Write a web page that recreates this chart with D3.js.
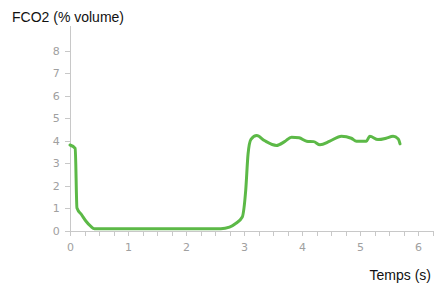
<!DOCTYPE html>
<html lang="fr">
<head>
<meta charset="utf-8">
<title>FCO2</title>
<script src="https://cdn.jsdelivr.net/npm/d3@7"></script>
<style>
  body { margin: 0; background: #fff; }
  .axis path, .axis line { stroke: #c8c8c8; shape-rendering: crispEdges; }
  .axis text { fill: #a0a0a0; font-family: "DejaVu Sans", sans-serif; font-size: 11px; }
  .title { font-family: "Liberation Sans", Arial, sans-serif; font-size: 14px; fill: #111; }
</style>
</head>
<body>
<script>
// temps (s) et FCO2 (% volume)
var temps = [0, 0.09, 0.12, 0.2, 0.28, 0.36, 0.42, 1.0, 1.5, 2.0, 2.6, 2.75, 2.85, 2.97, 3.03, 3.07, 3.12, 3.22, 3.35, 3.56, 3.7, 3.82, 3.95, 4.08, 4.2, 4.31, 4.48, 4.68, 4.85, 4.94, 5.11, 5.17, 5.31, 5.45, 5.57, 5.66, 5.69];
var fco2  = [3.8, 3.65, 1.0, 0.7, 0.4, 0.18, 0.08, 0.08, 0.08, 0.08, 0.08, 0.15, 0.3, 0.6, 1.8, 3.4, 4.05, 4.22, 4.0, 3.78, 3.95, 4.15, 4.12, 3.97, 3.95, 3.81, 3.97, 4.19, 4.1, 3.97, 3.97, 4.19, 4.04, 4.1, 4.19, 4.07, 3.85];
var xTicks = [0, 1, 2, 3, 4, 5, 6];
var yTicks = [0, 1, 2, 3, 4, 5, 6, 7, 8];

var W = 437, H = 285;
var svg = d3.select("body").append("svg").attr("width", W).attr("height", H);

var x = d3.scaleLinear().domain([0, 6.25]).range([70, 432.5]);
var y = d3.scaleLinear().domain([0, 9.1]).range([230.5, 25.75]);

// axe x avec graduations mineures tous les 0.25
var minor = d3.range(0, 6.26, 0.25);
var gx = svg.append("g").attr("class", "axis").attr("transform", "translate(0," + 230.5 + ")");
gx.call(d3.axisBottom(x).tickValues(minor).tickSize(5).tickSizeOuter(0)
  .tickFormat(function(d) { return xTicks.indexOf(d) >= 0 ? d : ""; }));
gx.selectAll("text").attr("dy", "1.1em");

var gy = svg.append("g").attr("class", "axis").attr("transform", "translate(70,0)");
gy.call(d3.axisLeft(y).tickValues(yTicks).tickSize(5).tickSizeOuter(0));
gy.selectAll("text").attr("dx", "-0.2em");

svg.append("text").attr("class", "title").attr("x", 12).attr("y", 22).text("FCO2 (% volume)");
svg.append("text").attr("class", "title").attr("x", 431).attr("y", 280).attr("text-anchor", "end").text("Temps (s)");

var line = d3.line()
  .x(function(d, i) { return x(temps[i]); })
  .y(function(d) { return y(d); })
  .curve(d3.curveMonotoneX);

svg.append("path").datum(fco2)
  .attr("d", line)
  .attr("fill", "none")
  .attr("stroke", "#5cb947")
  .attr("stroke-width", 3)
  .attr("stroke-linejoin", "round")
  .attr("stroke-linecap", "round");
</script>
</body>
</html>
